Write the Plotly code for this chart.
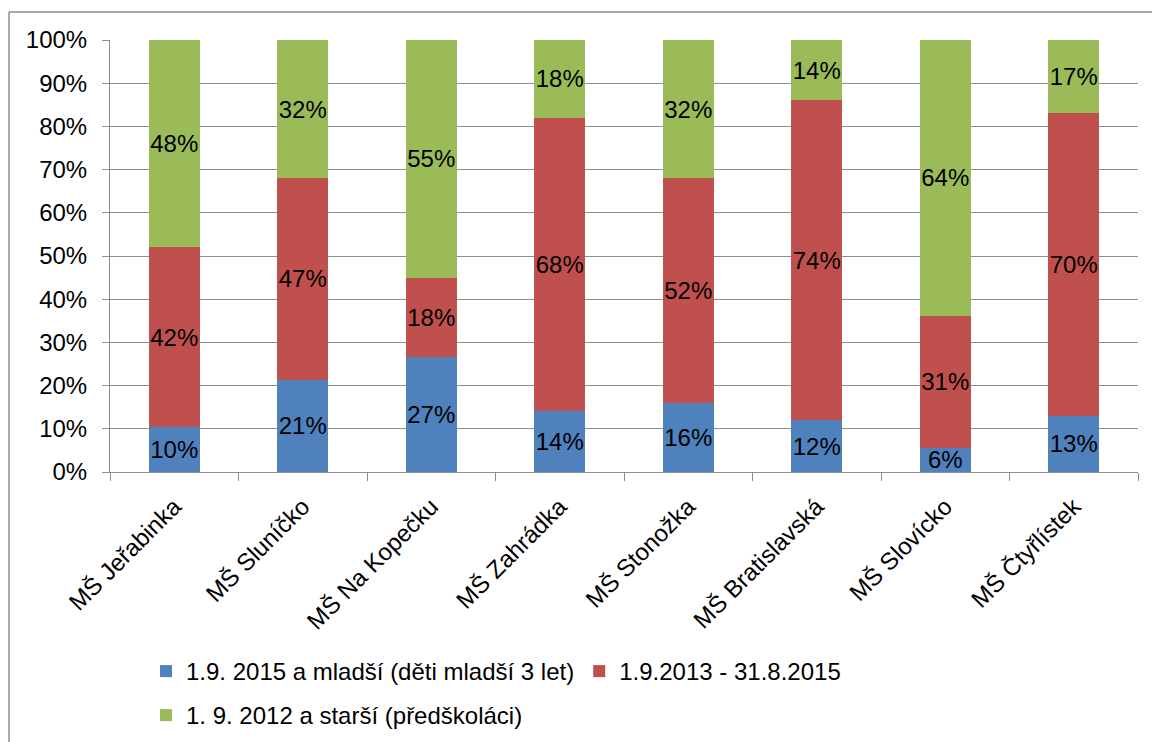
import plotly.graph_objects as go

categories = ["MŠ Jeřabinka", "MŠ Sluníčko", "MŠ Na Kopečku", "MŠ Zahrádka",
              "MŠ Stonožka", "MŠ Bratislavská", "MŠ Slovícko", "MŠ Čtyřlístek"]
series_names = ["1.9. 2015 a mladší (děti mladší 3 let)", "1.9.2013 - 31.8.2015",
                "1. 9. 2012 a starší (předškoláci)"]
young = [10.4, 21.4, 26.6, 14.1, 16.0, 12.0, 5.6, 13.0]
middle = [41.7, 46.6, 18.4, 67.9, 52.0, 74.0, 30.6, 70.0]
old = [47.9, 32.0, 55.0, 18.0, 32.0, 14.0, 63.8, 17.0]
young_lbl = ["10%", "21%", "27%", "14%", "16%", "12%", "6%", "13%"]
middle_lbl = ["42%", "47%", "18%", "68%", "52%", "74%", "31%", "70%"]
old_lbl = ["48%", "32%", "55%", "18%", "32%", "14%", "64%", "17%"]
colors = ["#4F81BD", "#C0504D", "#9BBB59"]

FONT = "Liberation Sans, Arial, sans-serif"
FS = 24
L, R, T, B = 110, 14, 40, 270
W, H = 1152, 742
pw, ph = W - L - R, H - T - B

def px_x(x):
    return (x - L) / pw

def px_y(y):
    return (H - B - y) / ph

fig = go.Figure()
legends = ["legend", "legend", "legend2"]
for name, vals, lbls, col, lg in zip(series_names, [young, middle, old],
                                     [young_lbl, middle_lbl, old_lbl], colors, legends):
    fig.add_trace(go.Bar(
        x=categories, y=[v / 100 for v in vals], name=name, legend=lg,
        marker=dict(color=col, line=dict(width=0)),
        text=lbls, textposition="inside", insidetextanchor="middle",
        constraintext="none", textangle=0,
        textfont=dict(size=FS, color="black", family=FONT),
    ))

leg_common = dict(orientation="h", xanchor="left", yanchor="top",
                  font=dict(size=FS, family=FONT, color="black"),
                  traceorder="normal", bgcolor="rgba(0,0,0,0)")

GRID = "#8c8c8c"
fig.update_layout(
    width=W, height=H, barmode="stack", bargap=0.6,
    margin=dict(l=L, r=R, t=T, b=B, autoexpand=False),
    paper_bgcolor="white", plot_bgcolor="white",
    font=dict(family=FONT, size=FS, color="black"),
    showlegend=True,
    legend=dict(x=px_x(146), y=px_y(649), **leg_common),
    legend2=dict(x=px_x(146), y=px_y(693), **leg_common),
    xaxis=dict(type="category", tickangle=-45, tickson="boundaries",
               ticks="outside", ticklen=8, tickcolor=GRID,
               showline=True, linecolor=GRID, linewidth=1,
               ticklabelstandoff=10,
               tickfont=dict(size=FS, family=FONT), showgrid=False),
    yaxis=dict(range=[0, 1], tickformat=".0%", dtick=0.1,
               ticks="outside", ticklen=7, tickcolor=GRID,
               showline=True, linecolor=GRID, linewidth=1,
               gridcolor=GRID, gridwidth=1, ticklabelstandoff=10,
               tickfont=dict(size=FS, family=FONT)),
    shapes=[
        dict(type="line", xref="paper", yref="paper",
             x0=px_x(9), x1=px_x(9), y0=px_y(H + 5), y1=px_y(12),
             line=dict(color=GRID, width=1.5), layer="above"),
        dict(type="line", xref="paper", yref="paper",
             x0=px_x(9), x1=px_x(W + 5), y0=px_y(12), y1=px_y(12),
             line=dict(color=GRID, width=1.5), layer="above"),
    ],
)
fig.write_html("out.html", config={"displayModeBar": False},
               post_script="document.body.style.margin='0';")
